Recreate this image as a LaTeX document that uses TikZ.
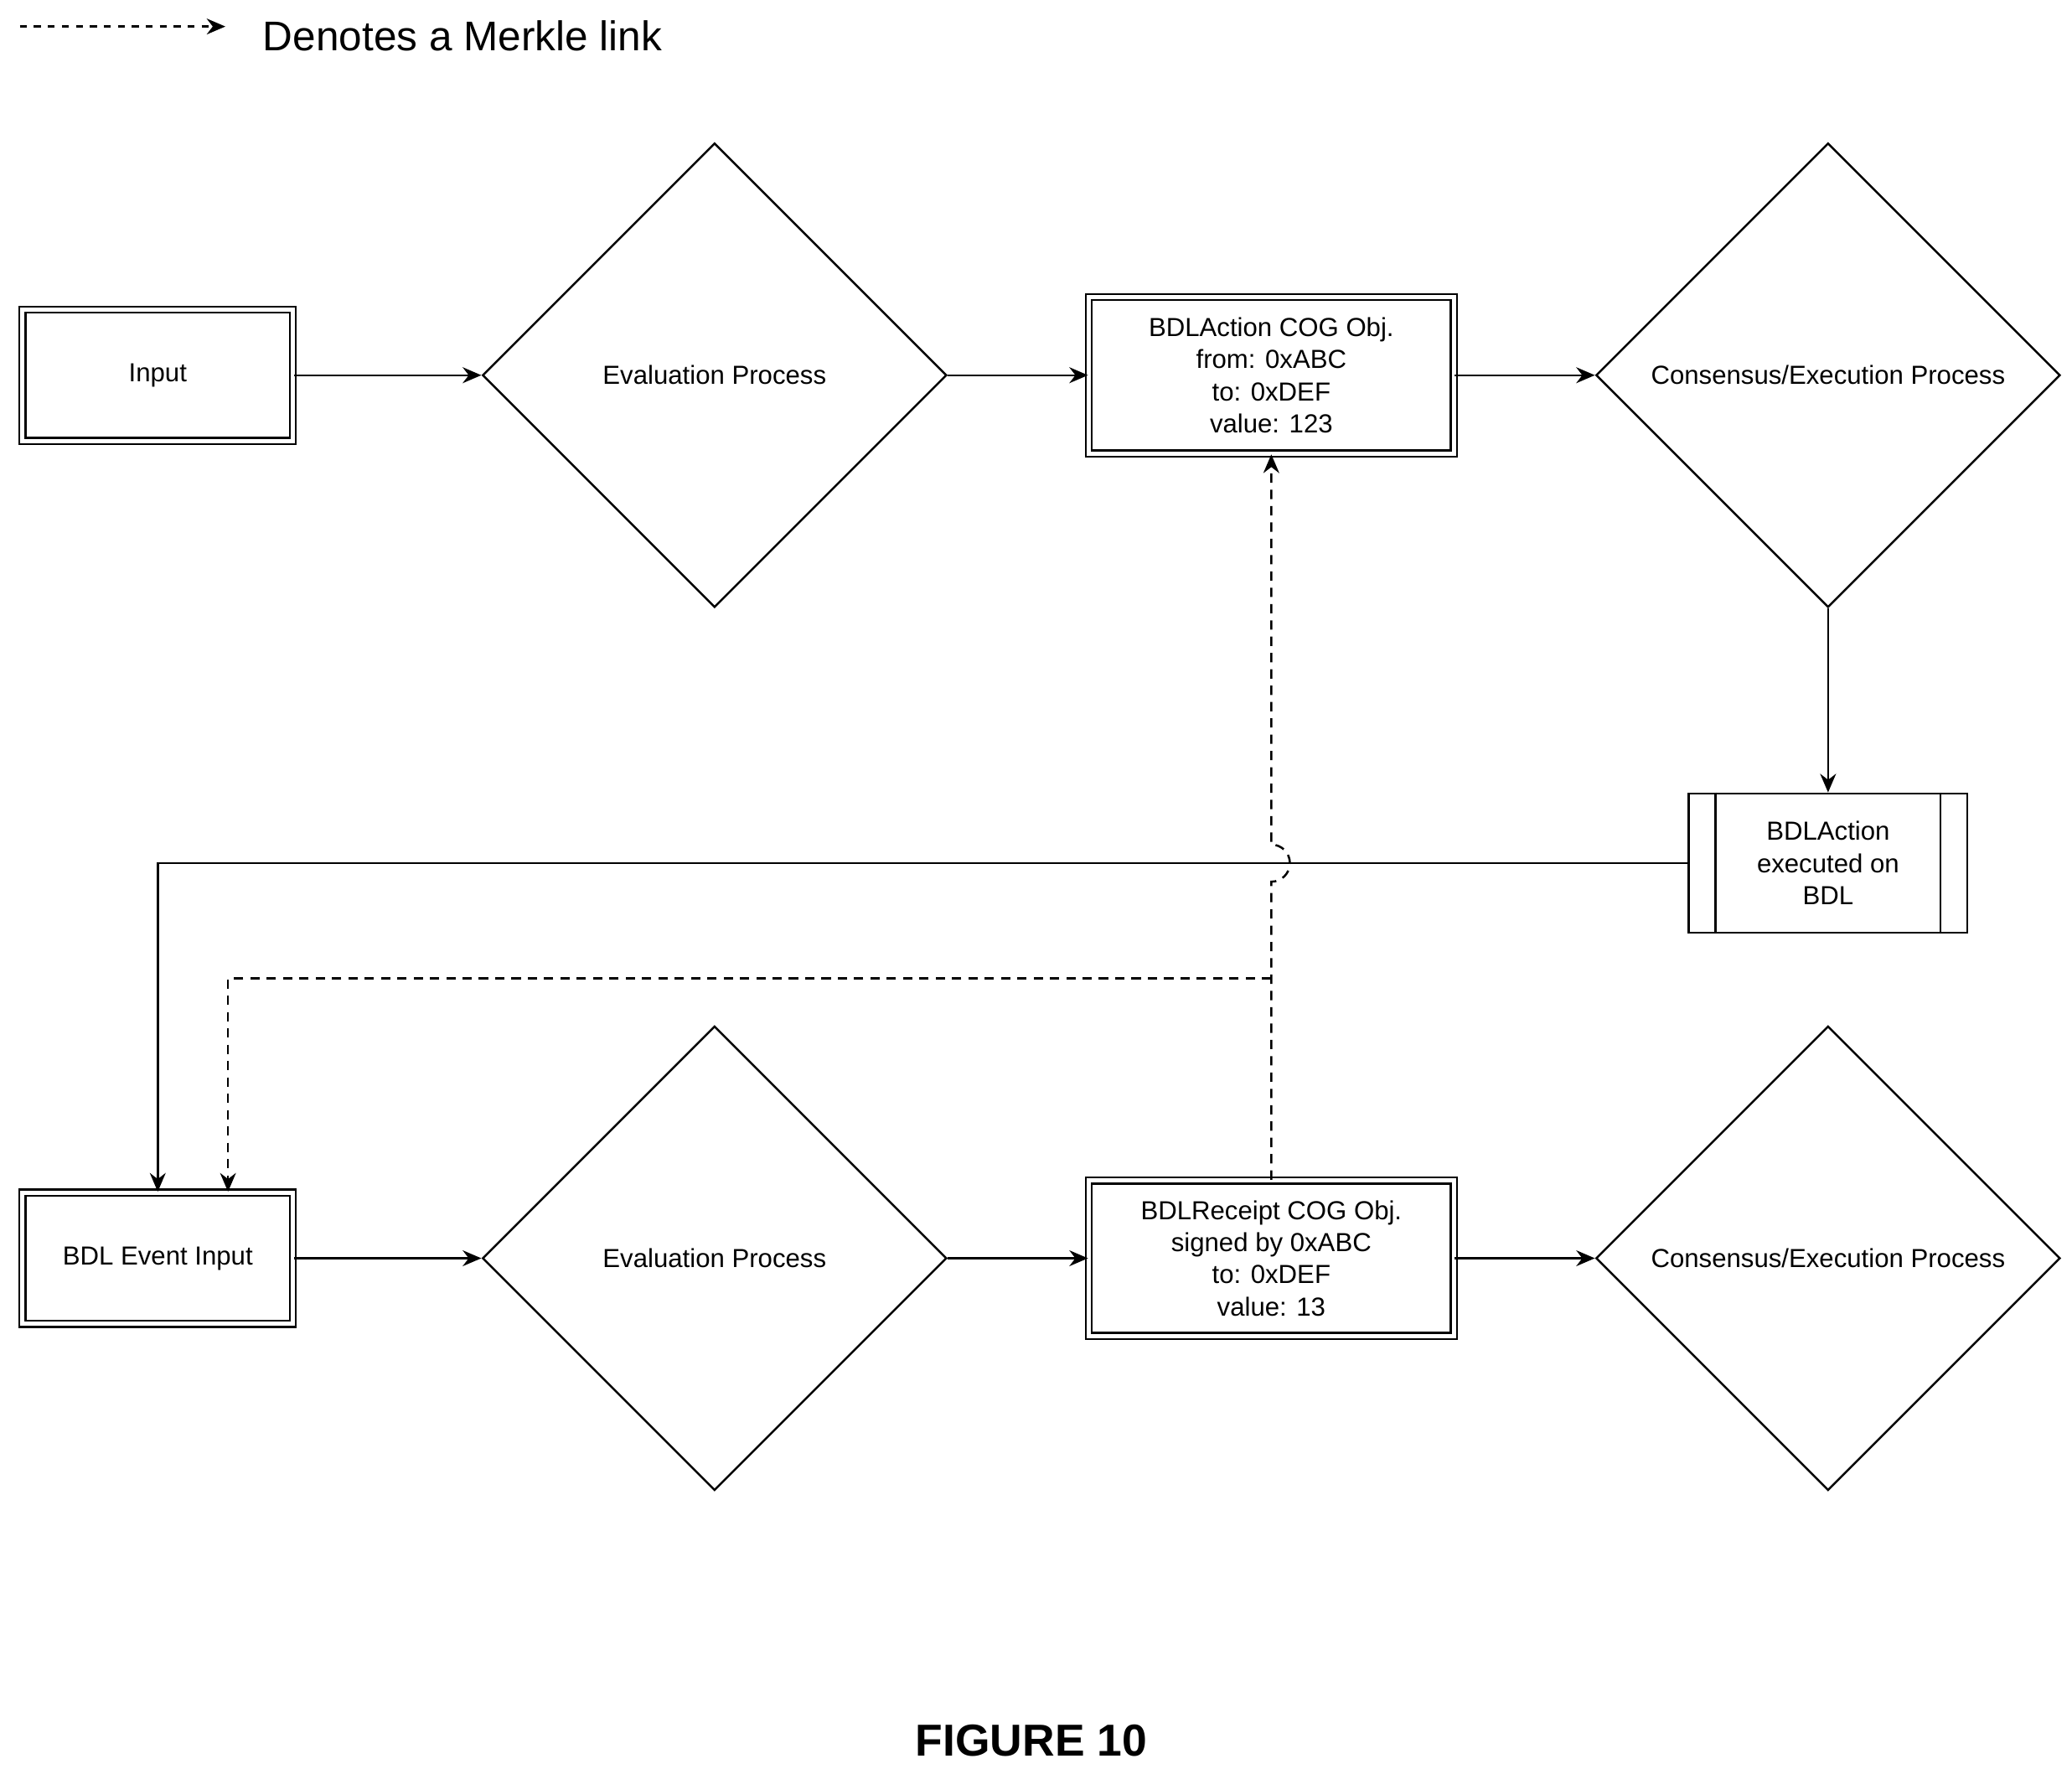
\documentclass[tikz,border=0pt]{standalone}
\usepackage{fontspec}
\setmainfont{Liberation Sans}
\usetikzlibrary{shapes.geometric,arrows.meta,calc}
\begin{document}
\begin{tikzpicture}[x=0.01cm,y=-0.01cm,
  every node/.style={font=\fontsize{5.6pt}{6.9pt}\selectfont, align=center},
  dbox/.style={draw, double, double distance=0.9pt, line width=0.4pt, minimum width=2.04cm, minimum height=0.99cm, inner sep=0pt},
  dia/.style={draw, diamond, line width=0.45pt, minimum width=3.5cm, minimum height=3.5cm, inner sep=0pt},
  arr/.style={line width=0.45pt, -{Stealth[length=4pt,width=3.4pt]}},
  mk/.style={arr, dash pattern=on 2pt off 1.5pt}]
\useasboundingbox (0,0) rectangle (1563,1334);
% legend
\coordinate (l1) at (15,20); \coordinate (l2) at (170,20);
\draw[arr, dash pattern=on 1.5pt off 1.5pt] (l1) -- (l2);
\node[anchor=west, font=\fontsize{8.9pt}{10pt}\selectfont] (leg) at (186,27) {Denotes a Merkle link};
% row 1
\node[dbox] (in) at (119,283) {Input};
\node[dia] (ev1) at (539,283) {Evaluation Process};
\node[dbox, minimum width=2.75cm, minimum height=1.18cm] (act) at (959,283) {BDLAction COG Obj.\\from: 0xABC\\to: 0xDEF\\value: 123};
\node[dia] (co1) at (1379,283) {Consensus/Execution Process};
\node[draw, line width=0.45pt, minimum width=2.1cm, minimum height=1.05cm, inner sep=0pt] (ex) at (1379,651) {BDLAction\\executed on\\BDL};
\draw[line width=0.45pt] ($(ex.north west)+(0.21cm,0)$) -- ($(ex.south west)+(0.21cm,0)$);
\draw[line width=0.45pt] ($(ex.north east)+(-0.21cm,0)$) -- ($(ex.south east)+(-0.21cm,0)$);
% row 2
\node[dbox] (bin) at (119,949) {BDL Event Input};
\node[dia] (ev2) at (539,949) {Evaluation Process};
\node[dbox, minimum width=2.75cm, minimum height=1.17cm] (rec) at (959,949) {BDLReceipt COG Obj.\\signed by 0xABC\\to: 0xDEF\\value: 13};
\node[dia] (co2) at (1379,949) {Consensus/Execution Process};
% flow
\draw[arr] (in) -- (ev1);
\draw[arr] (ev1) -- (act);
\draw[arr] (act) -- (co1);
\draw[arr] (co1) -- (ex);
\draw[arr] (ex.west) -- (119,651) -- (bin.north -| 119,0);
\draw[arr] (bin) -- (ev2);
\draw[arr] (ev2) -- (rec);
\draw[arr] (rec) -- (co2);
% merkle links
\draw[mk] (rec.north) -- (959,665) arc[start angle=-90,end angle=90,radius=0.14cm] -- (act.south);
\draw[mk] (959,738) -- (172,738) -- (bin.north -| 172,0);
\node[font=\bfseries\fontsize{9.6pt}{11pt}\selectfont] (fig) at (778,1313) {FIGURE 10};
\end{tikzpicture}
\end{document}
